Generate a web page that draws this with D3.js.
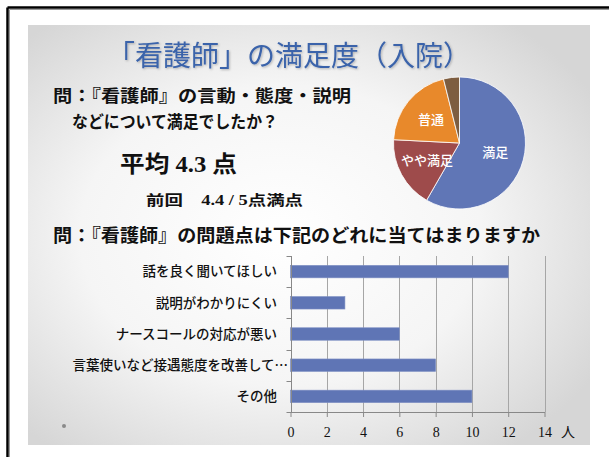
<!DOCTYPE html>
<html>
<head>
<meta charset="utf-8">
<script src="https://cdn.jsdelivr.net/npm/d3@7"></script>
<style>
html,body{margin:0;padding:0;background:#ffffff;}
svg{display:block;}
</style>
</head>
<body>
<svg id="chart" width="609" height="457"></svg>
<script>
// ---------- data ----------
const titleText = "「看護師」の満足度（入院）";
const question1 = ["問：『看護師』の言動・態度・説明", "などについて満足でしたか？"];
const averageText = "平均 4.3 点";
const previousText = "前回　4.4 / 5点満点";
const question2 = "問：『看護師』の問題点は下記のどれに当てはまりますか";

const pieLabels = ["満足", "やや満足", "普通", "やや不満"];
const pieValues = [58.3, 17.5, 20.3, 3.9];
const pieShowLabel = [true, true, true, false];

const barCategories = ["話を良く聞いてほしい", "説明がわかりにくい", "ナースコールの対応が悪い", "言葉使いなど接遇態度を改善して…", "その他"];
const barValues = [12, 3, 6, 8, 10];
const xTicks = [0, 2, 4, 6, 8, 10, 12, 14];
const xUnit = "人";

// ---------- drawing ----------
const svg = d3.select("#chart");
const defs = svg.append("defs");

const grad = defs.append("radialGradient").attr("id", "bg")
  .attr("cx", "45%").attr("cy", "50%").attr("r", "65%");
grad.append("stop").attr("offset", "0%").attr("stop-color", "#ffffff");
grad.append("stop").attr("offset", "55%").attr("stop-color", "#f5f5f5");
grad.append("stop").attr("offset", "100%").attr("stop-color", "#d6d6d6");

const sh = defs.append("filter").attr("id", "shadow").attr("x", "-10%").attr("y", "-30%").attr("width", "120%").attr("height", "160%");
sh.append("feDropShadow").attr("dx", 1).attr("dy", 1).attr("stdDeviation", 0.8).attr("flood-color", "#000").attr("flood-opacity", 0.25);

// outer frame
svg.append("line").attr("x1", 7.5).attr("y1", 7.5).attr("x2", 609).attr("y2", 7.5).attr("stroke", "#000").attr("stroke-width", 2.5);
svg.append("line").attr("x1", 7.5).attr("y1", 7.5).attr("x2", 7.5).attr("y2", 457).attr("stroke", "#000").attr("stroke-width", 2.5);
svg.append("line").attr("x1", 9.5).attr("y1", 9.5).attr("x2", 609).attr("y2", 9.5).attr("stroke", "#999").attr("stroke-width", 1);
svg.append("line").attr("x1", 9.5).attr("y1", 9.5).attr("x2", 9.5).attr("y2", 457).attr("stroke", "#999").attr("stroke-width", 1);

// slide
svg.append("rect").attr("x", 28).attr("y", 25).attr("width", 562).attr("height", 420).attr("fill", "url(#bg)");

// title
svg.append("text").attr("x", 289).attr("y", 66).attr("text-anchor", "middle")
  .attr("font-family", "'Noto Sans CJK JP', sans-serif").attr("font-size", 28)
  .attr("fill", "#3a63aa").attr("filter", "url(#shadow)").text(titleText);

// question 1
svg.append("text").attr("x", 53).attr("y", 102)
  .attr("font-family", "'Noto Sans CJK JP', sans-serif").attr("font-size", 17).attr("font-weight", 700)
  .attr("fill", "#111").attr("textLength", 298).attr("lengthAdjust", "spacingAndGlyphs").text(question1[0]);
svg.append("text").attr("x", 72).attr("y", 128)
  .attr("font-family", "'Noto Sans CJK JP', sans-serif").attr("font-size", 17).attr("font-weight", 700)
  .attr("fill", "#111").attr("textLength", 206).attr("lengthAdjust", "spacingAndGlyphs").text(question1[1]);

// average
svg.append("text").attr("x", 120).attr("y", 172)
  .attr("font-family", "'Liberation Serif', 'Noto Sans CJK JP', serif").attr("font-size", 23).attr("font-weight", 700)
  .attr("fill", "#111").attr("textLength", 117).attr("lengthAdjust", "spacingAndGlyphs").text(averageText);
svg.append("text").attr("x", 146).attr("y", 205)
  .attr("font-family", "'Liberation Serif', 'Noto Sans CJK JP', serif").attr("font-size", 14).attr("font-weight", 700)
  .attr("fill", "#111").attr("textLength", 157).attr("lengthAdjust", "spacingAndGlyphs").text(previousText);

// question 2
svg.append("text").attr("x", 53).attr("y", 242)
  .attr("font-family", "'Noto Sans CJK JP', sans-serif").attr("font-size", 18).attr("font-weight", 700)
  .attr("fill", "#111").attr("textLength", 487).attr("lengthAdjust", "spacingAndGlyphs").text(question2);

// ---------- pie ----------
const pieColors = ["#6076b6", "#9e4b4b", "#e8892b", "#7d5d40"];
const cx = 459.5, cy = 143, r = 66;
const pie = d3.pie().sort(null).value(d => d)(pieValues);
const arc = d3.arc().innerRadius(0).outerRadius(r);
const labelArc = d3.arc().innerRadius(r * 0.56).outerRadius(r * 0.56);
const pg = svg.append("g").attr("transform", `translate(${cx},${cy})`);
pg.selectAll("path").data(pie).join("path")
  .attr("d", arc).attr("fill", (d, i) => pieColors[i])
  .attr("stroke", "#ffffff").attr("stroke-width", 0.8);
pg.selectAll("text").data(pie.filter((d, i) => pieShowLabel[i])).join("text")
  .attr("transform", d => `translate(${labelArc.centroid(d)})`)
  .attr("text-anchor", "middle").attr("dy", "0.36em")
  .attr("font-family", "'Noto Sans CJK JP', sans-serif").attr("font-size", 13).attr("font-weight", 500)
  .attr("fill", "#ffffff").text(d => pieLabels[d.index]);

// ---------- bar chart ----------
const x = d3.scaleLinear().domain([0, 14]).range([290.5, 544.5]);
const y = d3.scaleBand().domain(barCategories).range([256, 412]).paddingInner(0.6).paddingOuter(0.3);
const bg = svg.append("g");

// vertical gridlines
bg.selectAll("line.grid").data(xTicks.filter(t => t > 0)).join("line")
  .attr("class", "grid")
  .attr("x1", d => Math.round(x(d)) + 0.5).attr("x2", d => Math.round(x(d)) + 0.5)
  .attr("y1", 256).attr("y2", 412)
  .attr("stroke", "#a6a6a6").attr("stroke-width", 1);

// bars
bg.selectAll("rect.bar").data(barCategories).join("rect")
  .attr("class", "bar")
  .attr("x", x(0)).attr("y", d => y(d))
  .attr("width", (d, i) => x(barValues[i]) - x(0)).attr("height", y.bandwidth())
  .attr("fill", "#5f75b5").attr("stroke", "#7f90c4").attr("stroke-width", 0.6);

// x axis
const xAxis = bg.append("g").attr("transform", "translate(0,412)")
  .call(d3.axisBottom(x).tickValues(xTicks).tickSize(5).tickPadding(20).tickSizeOuter(0));
xAxis.select(".domain").attr("stroke", "#888");
xAxis.selectAll(".tick line").attr("stroke", "#888");
xAxis.selectAll(".tick text").attr("font-family", "'Liberation Serif', serif").attr("font-size", 14)
  .attr("fill", "#111").attr("dy", "0");

svg.append("text").attr("x", 568).attr("y", 437).attr("text-anchor", "middle")
  .attr("font-family", "'Noto Sans CJK JP', sans-serif").attr("font-size", 14).attr("fill", "#111").text(xUnit);

// y axis
const yAxisX = Math.round(x(0)) + 0.5;
bg.append("line").attr("x1", yAxisX).attr("x2", yAxisX).attr("y1", 256).attr("y2", 412)
  .attr("stroke", "#888");
const boundaries = d3.range(barCategories.length + 1).map(i => 256 + i * y.step());
bg.selectAll("line.ytick").data(boundaries).join("line")
  .attr("class", "ytick")
  .attr("x1", yAxisX - 5).attr("x2", yAxisX)
  .attr("y1", d => Math.round(d) + 0.5).attr("y2", d => Math.round(d) + 0.5)
  .attr("stroke", "#888");

bg.selectAll("text.cat").data(barCategories).join("text")
  .attr("class", "cat")
  .attr("x", (d, i) => d.endsWith("…") ? 288 : 277)
  .attr("y", d => y(d) + y.bandwidth() / 2).attr("dy", "0.36em")
  .attr("text-anchor", "end")
  .attr("font-family", "'Noto Sans CJK JP', sans-serif").attr("font-size", 13.5).attr("font-weight", 500)
  .attr("fill", "#111").text(d => d);

// decorative dot
svg.append("circle").attr("cx", 64).attr("cy", 426).attr("r", 2).attr("fill", "#8a8a8a");
</script>
</body>
</html>
